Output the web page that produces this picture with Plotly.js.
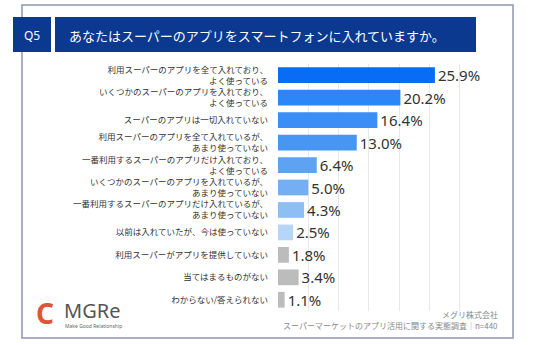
<!DOCTYPE html>
<html><head><meta charset="utf-8">
<script src="https://cdn.plot.ly/plotly-3.0.1.min.js"></script>
<style>html,body{margin:0;padding:0;background:#fff}#chart{width:536px;height:345px}</style>
</head><body><div id="chart"></div>
<script>
const categories = [
  "利用スーパーのアプリを全て入れており、<br>よく使っている",
  "いくつかのスーパーのアプリを入れており、<br>よく使っている",
  "スーパーのアプリは一切入れていない",
  "利用スーパーのアプリを全て入れているが、<br>あまり使っていない",
  "一番利用するスーパーのアプリだけ入れており、<br>よく使っている",
  "いくつかのスーパーのアプリを入れているが、<br>あまり使っていない",
  "一番利用するスーパーのアプリだけ入れているが、<br>あまり使っていない",
  "以前は入れていたが、今は使っていない",
  "利用スーパーがアプリを提供していない",
  "当てはまるものがない",
  "わからない/答えられない"
];
const values = [25.9, 20.2, 16.4, 13.0, 6.4, 5.0, 4.3, 2.5, 1.8, 3.4, 1.1];
const barColors = ["#0a6cf5","#2d86f8","#3b8ef5","#4796f4","#5ea3f2","#74aff3","#8dbff5","#b5d6f8","#bcbcbc","#bcbcbc","#bcbcbc"];
const titleText = "あなたはスーパーのアプリをスマートフォンに入れていますか。";
const qLabel = "Q5";
const sourceLines = ["メグリ株式会社", "スーパーマーケットのアプリ活用に関する実態調査｜n=440"];

const W = 536, H = 345;
const M = {l: 278, r: 52, t: 64, b: 34};
const pw = W - M.l - M.r, ph = H - M.t - M.b;
const px = x => (x - M.l) / pw;
const py = y => 1 - (y - M.t) / ph;
const jp = '"Noto Sans CJK JP", "Noto Sans", sans-serif';

const data = [{
  type: 'bar', orientation: 'h',
  y: categories, x: values,
  marker: {color: barColors},
  width: 0.7,
  texttemplate: '%{x:.1f}%', textposition: 'outside', constraintext: 'none',
  textfont: {family: '"Noto Sans", "Open Sans", sans-serif', size: 15, color: '#333'},
  cliponaxis: false, hoverinfo: 'none'
}];

const rect = (x0,y0,x1,y1,fill,line) => ({type:'rect', xref:'paper', yref:'paper',
  x0:px(x0), x1:px(x1), y0:py(y1), y1:py(y0), fillcolor:fill||'rgba(0,0,0,0)',
  line: line || {width:0}, layer:'above'});

const layout = {
  width: W, height: H, margin: M,
  paper_bgcolor: '#fff', plot_bgcolor: '#fff',
  showlegend: false,
  xaxis: {range: [0, 34], dtick: 5, showticklabels: false, gridcolor: '#e8e8e8', gridwidth: 1, zeroline: false, showline: false, fixedrange: true},
  yaxis: {autorange: 'reversed', tickfont: {family: jp, size: 8.5, color: '#333'}, ticks: '', ticklabelstandoff: 9, showgrid: false, showline: false, automargin: false},
  shapes: [
    rect(22, 5, 513, 338, null, {color: '#8d95b3', width: 1.5}),
    rect(13, 17, 51, 52, '#0b3990'),
    rect(55, 17, 476, 52, '#0b3990'),
  ],
  annotations: [
    {text: qLabel, x: px(32), y: py(35), xref:'paper', yref:'paper', showarrow:false, xanchor:'center', yanchor:'middle', font:{family:'"Noto Sans", sans-serif', size:12, color:'#fff'}},
    {text: titleText, x: px(67), y: py(35), xref:'paper', yref:'paper', showarrow:false, xanchor:'left', yanchor:'middle', font:{family: jp, size:13, color:'#fff'}},
    {text: sourceLines[0], x: px(500), y: py(314), xref:'paper', yref:'paper', showarrow:false, xanchor:'right', yanchor:'middle', font:{family: jp, size:8, color:'#888'}},
    {text: sourceLines[1], x: px(500), y: py(325), xref:'paper', yref:'paper', showarrow:false, xanchor:'right', yanchor:'middle', font:{family: jp, size:8, color:'#888'}},
    {text: '<b>C</b>', x: px(45), y: py(313), xref:'paper', yref:'paper', showarrow:false, xanchor:'center', yanchor:'middle', font:{family:'"Noto Sans", sans-serif', size:28, color:'#e2533a'}},
    {text: 'MGRe', x: px(62), y: py(310), xref:'paper', yref:'paper', showarrow:false, xanchor:'left', yanchor:'middle', font:{family:'"Noto Sans", sans-serif', size:20, color:'#555'}},
    {text: 'Make Good Relationship', x: px(63), y: py(326), xref:'paper', yref:'paper', showarrow:false, xanchor:'left', yanchor:'middle', font:{family:'"Noto Sans", sans-serif', size:5, color:'#666'}}
  ]
};
Plotly.newPlot('chart', data, layout, {displayModeBar: false, staticPlot: true});
</script></body></html>
